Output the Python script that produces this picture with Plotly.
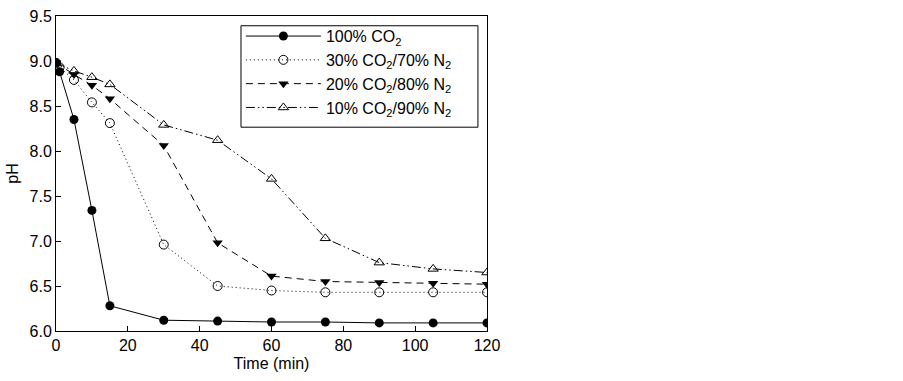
import plotly.graph_objects as go

time_100 = [0, 1, 5, 10, 15, 30, 45, 60, 75, 90, 105, 120]
ph_100 = [8.98, 8.88, 8.35, 7.34, 6.28, 6.12, 6.11, 6.10, 6.10, 6.09, 6.09, 6.09]

time_30 = [0, 1, 5, 10, 15, 30, 45, 60, 75, 90, 105, 120]
ph_30 = [8.98, 8.93, 8.79, 8.54, 8.31, 6.96, 6.50, 6.45, 6.43, 6.43, 6.43, 6.43]

time_20 = [0, 5, 10, 15, 30, 45, 60, 75, 90, 105, 120]
ph_20 = [8.98, 8.85, 8.73, 8.58, 8.06, 6.98, 6.61, 6.55, 6.54, 6.53, 6.52]

time_10 = [0, 5, 10, 15, 30, 45, 60, 75, 90, 105, 120]
ph_10 = [8.98, 8.89, 8.82, 8.74, 8.29, 8.12, 7.69, 7.03, 6.76, 6.69, 6.65]

names = ["100% CO<sub>2</sub>", "30% CO<sub>2</sub>/70% N<sub>2</sub>",
         "20% CO<sub>2</sub>/80% N<sub>2</sub>", "10% CO<sub>2</sub>/90% N<sub>2</sub>"]

fig = go.Figure()
fig.add_trace(go.Scatter(x=time_100, y=ph_100, name=names[0], mode="lines+markers",
                         line=dict(color="black", width=1, dash="solid"),
                         marker=dict(symbol="circle", size=9, color="black")))
fig.add_trace(go.Scatter(x=time_30, y=ph_30, name=names[1], mode="lines+markers",
                         line=dict(color="black", width=1, dash="1px,3px"),
                         marker=dict(symbol="circle-open", size=9, color="black", line=dict(width=1))))
fig.add_trace(go.Scatter(x=time_20, y=ph_20, name=names[2], mode="lines+markers",
                         line=dict(color="black", width=1, dash="7px,5px"),
                         marker=dict(symbol="triangle-down", size=9, color="black")))
fig.add_trace(go.Scatter(x=time_10, y=ph_10, name=names[3], mode="lines+markers",
                         line=dict(color="black", width=1, dash="9px,3px,1.5px,3px,1.5px,3px"),
                         marker=dict(symbol="triangle-up-open", size=9, color="black", line=dict(width=1))))

fig.update_layout(
    width=903, height=381,
    margin=dict(l=56, r=416, t=8, b=50),
    paper_bgcolor="white", plot_bgcolor="white",
    font=dict(family="Liberation Sans, Arial, sans-serif", size=16, color="black"),
    showlegend=True,
    legend=dict(x=0.429, y=0.99, xanchor="left", yanchor="top",
                borderwidth=0, bgcolor="rgba(0,0,0,0)",
                font=dict(size=16), itemwidth=75, tracegroupgap=0),
    shapes=[dict(type="rect", xref="paper", yref="paper",
                 x0=0.4292, x1=0.979, y0=0.647, y1=0.969,
                 line=dict(color="black", width=1), fillcolor="white", layer="below")],
)
fig.update_xaxes(range=[0, 120], tickvals=[0, 20, 40, 60, 80, 100, 120],
                 ticks="inside", ticklen=5, tickcolor="black",
                 showline=True, linecolor="black", linewidth=1, mirror=True,
                 showgrid=False, zeroline=False, ticklabeloverflow="allow",
                 title=dict(text="Time (min)", font=dict(size=16), standoff=4))
fig.update_yaxes(range=[6.0, 9.5], tickvals=[6.0, 6.5, 7.0, 7.5, 8.0, 8.5, 9.0, 9.5],
                 tickformat=".1f",
                 ticks="inside", ticklen=5, tickcolor="black",
                 showline=True, linecolor="black", linewidth=1, mirror=True,
                 showgrid=False, zeroline=False, ticklabeloverflow="allow",
                 title=dict(text="pH", font=dict(size=16), standoff=6))

fig.write_html("out.html", config={"displayModeBar": False},
               post_script="document.body.style.margin='0';")
